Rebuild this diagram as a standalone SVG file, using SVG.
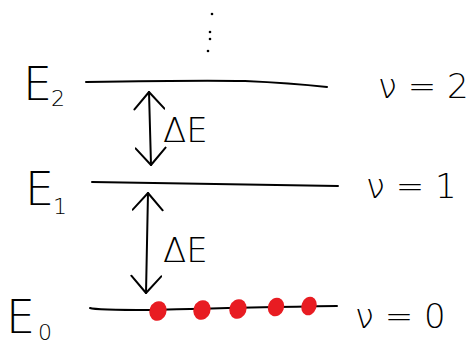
<svg xmlns="http://www.w3.org/2000/svg" width="470" height="350" viewBox="0 0 470 350">
<defs>
<style>
.lvl{fill:none;stroke:#000;stroke-width:2;stroke-linecap:round}
.lbl{font-family:"DejaVu Sans","Liberation Sans",sans-serif;fill:#000;font-weight:200}
.big{font-size:46px}
.sub{font-size:22px}
.q{font-size:34px}
.arr{fill:none;stroke:#000;stroke-width:2;stroke-linecap:round}
.e{fill:#e81c22}
</style>
<marker id="ah" viewBox="0 0 20 32" refX="19" refY="16" markerWidth="20" markerHeight="32" markerUnits="userSpaceOnUse" orient="auto-start-reverse">
<path d="M2,1 L19,16 L2,31" fill="none" stroke="#000" stroke-width="2" stroke-linecap="round" stroke-linejoin="round"/>
</marker>
</defs>
<rect width="470" height="350" fill="#fff"/>
<g id="ellipsis">
<circle cx="212" cy="14" r="1.3"/>
<circle cx="210" cy="32" r="1.3"/>
<circle cx="210" cy="39" r="1.3"/>
<circle cx="208" cy="51" r="1.3"/>
</g>
<g id="level-2">
<path class="lvl" d="M86,82 Q200,80 245,81 Q290,83 327,87"/>
<text class="lbl big" x="23" y="100">E</text>
<text class="lbl sub" x="51" y="106">2</text>
<text class="lbl q" x="378" y="98">ν = 2</text>
</g>
<g id="level-1">
<path class="lvl" d="M92,182 Q220,184 338,186"/>
<text class="lbl big" x="25" y="205">E</text>
<text class="lbl sub" x="53" y="214">1</text>
<text class="lbl q" x="366" y="198">ν = 1</text>
</g>
<g id="level-0">
<path class="lvl" d="M90,308 Q95,310 150,310 Q260,307 337,306"/>
<text class="lbl big" x="6" y="333">E</text>
<text class="lbl sub" x="38" y="340">0</text>
<text class="lbl q" x="355" y="328">ν = 0</text>
</g>
<g id="connectors">
<path class="arr" d="M149,92 L151,165" marker-start="url(#ah)" marker-end="url(#ah)"/>
<text class="lbl q" x="163" y="142">ΔE</text>
<path class="arr" d="M148,193 L146,293" marker-start="url(#ah)" marker-end="url(#ah)"/>
<text class="lbl q" x="163" y="262">ΔE</text>
</g>
<g id="electrons">
<ellipse class="e" cx="158" cy="311" rx="8.5" ry="10" transform="rotate(20 158 311)"/>
<ellipse class="e" cx="202" cy="310" rx="8.5" ry="10" transform="rotate(20 202 310)"/>
<ellipse class="e" cx="238" cy="309" rx="8.5" ry="10" transform="rotate(20 238 309)"/>
<ellipse class="e" cx="276" cy="307" rx="8" ry="9.5" transform="rotate(20 276 307)"/>
<ellipse class="e" cx="309" cy="306" rx="7.5" ry="9.5" transform="rotate(20 309 306)"/>
</g>
</svg>
